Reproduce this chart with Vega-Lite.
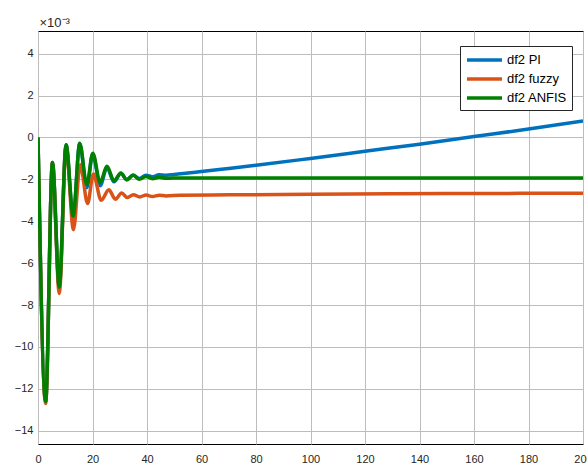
{
  "$schema": "https://vega.github.io/schema/vega-lite/v6.json",
  "width": 545,
  "height": 413,
  "autosize": {"type": "none"},
  "padding": {"left": 38, "top": 31, "right": 4, "bottom": 23},
  "background": "white",
  "config": {
    "view": {"stroke": "#000000", "strokeWidth": 1},
    "font": "Liberation Sans"
  },
  "data": {
    "values": [
      {"t": 0, "v": 0.0, "s": "df2 PI"},
      {"t": 2.8, "v": -12.6, "s": "df2 PI"},
      {"t": 5.3, "v": -1.2, "s": "df2 PI"},
      {"t": 7.8, "v": -7.15, "s": "df2 PI"},
      {"t": 10.3, "v": -0.35, "s": "df2 PI"},
      {"t": 12.9, "v": -3.8, "s": "df2 PI"},
      {"t": 15.3, "v": -0.3, "s": "df2 PI"},
      {"t": 17.9, "v": -2.4, "s": "df2 PI"},
      {"t": 20.1, "v": -0.8, "s": "df2 PI"},
      {"t": 22.8, "v": -2.3, "s": "df2 PI"},
      {"t": 25.3, "v": -1.45, "s": "df2 PI"},
      {"t": 27.9, "v": -2.12, "s": "df2 PI"},
      {"t": 30.4, "v": -1.72, "s": "df2 PI"},
      {"t": 32.6, "v": -2.02, "s": "df2 PI"},
      {"t": 34.9, "v": -1.79, "s": "df2 PI"},
      {"t": 37.2, "v": -1.96, "s": "df2 PI"},
      {"t": 39.6, "v": -1.8, "s": "df2 PI"},
      {"t": 42, "v": -1.88, "s": "df2 PI"},
      {"t": 44.4, "v": -1.78, "s": "df2 PI"},
      {"t": 47, "v": -1.8, "s": "df2 PI"},
      {"t": 50, "v": -1.77, "s": "df2 PI"},
      {"t": 55, "v": -1.7, "s": "df2 PI"},
      {"t": 60, "v": -1.63, "s": "df2 PI"},
      {"t": 70, "v": -1.48, "s": "df2 PI"},
      {"t": 80, "v": -1.33, "s": "df2 PI"},
      {"t": 100, "v": -1.0, "s": "df2 PI"},
      {"t": 120, "v": -0.66, "s": "df2 PI"},
      {"t": 140, "v": -0.32, "s": "df2 PI"},
      {"t": 160, "v": 0.04, "s": "df2 PI"},
      {"t": 180, "v": 0.4, "s": "df2 PI"},
      {"t": 200, "v": 0.78, "s": "df2 PI"},

      {"t": 0, "v": 0.0, "s": "df2 fuzzy"},
      {"t": 2.8, "v": -12.7, "s": "df2 fuzzy"},
      {"t": 5.3, "v": -1.2, "s": "df2 fuzzy"},
      {"t": 7.8, "v": -7.45, "s": "df2 fuzzy"},
      {"t": 10.3, "v": -0.4, "s": "df2 fuzzy"},
      {"t": 13.0, "v": -4.4, "s": "df2 fuzzy"},
      {"t": 15.5, "v": -1.3, "s": "df2 fuzzy"},
      {"t": 18.2, "v": -3.15, "s": "df2 fuzzy"},
      {"t": 20.3, "v": -1.75, "s": "df2 fuzzy"},
      {"t": 23.2, "v": -3.0, "s": "df2 fuzzy"},
      {"t": 26.0, "v": -2.5, "s": "df2 fuzzy"},
      {"t": 28.4, "v": -2.95, "s": "df2 fuzzy"},
      {"t": 30.7, "v": -2.65, "s": "df2 fuzzy"},
      {"t": 32.8, "v": -2.87, "s": "df2 fuzzy"},
      {"t": 35, "v": -2.73, "s": "df2 fuzzy"},
      {"t": 37.3, "v": -2.84, "s": "df2 fuzzy"},
      {"t": 39.7, "v": -2.75, "s": "df2 fuzzy"},
      {"t": 42, "v": -2.82, "s": "df2 fuzzy"},
      {"t": 44.5, "v": -2.76, "s": "df2 fuzzy"},
      {"t": 47, "v": -2.79, "s": "df2 fuzzy"},
      {"t": 52, "v": -2.76, "s": "df2 fuzzy"},
      {"t": 70, "v": -2.74, "s": "df2 fuzzy"},
      {"t": 100, "v": -2.71, "s": "df2 fuzzy"},
      {"t": 150, "v": -2.68, "s": "df2 fuzzy"},
      {"t": 200, "v": -2.66, "s": "df2 fuzzy"},

      {"t": 0, "v": 0.0, "s": "df2 ANFIS"},
      {"t": 2.8, "v": -12.6, "s": "df2 ANFIS"},
      {"t": 5.3, "v": -1.2, "s": "df2 ANFIS"},
      {"t": 7.8, "v": -7.15, "s": "df2 ANFIS"},
      {"t": 10.3, "v": -0.35, "s": "df2 ANFIS"},
      {"t": 12.9, "v": -3.75, "s": "df2 ANFIS"},
      {"t": 15.3, "v": -0.28, "s": "df2 ANFIS"},
      {"t": 17.9, "v": -2.25, "s": "df2 ANFIS"},
      {"t": 20.1, "v": -0.75, "s": "df2 ANFIS"},
      {"t": 22.8, "v": -2.15, "s": "df2 ANFIS"},
      {"t": 25.3, "v": -1.38, "s": "df2 ANFIS"},
      {"t": 27.9, "v": -2.07, "s": "df2 ANFIS"},
      {"t": 30.4, "v": -1.7, "s": "df2 ANFIS"},
      {"t": 32.6, "v": -2.02, "s": "df2 ANFIS"},
      {"t": 34.9, "v": -1.8, "s": "df2 ANFIS"},
      {"t": 37.2, "v": -2.0, "s": "df2 ANFIS"},
      {"t": 39.6, "v": -1.86, "s": "df2 ANFIS"},
      {"t": 42, "v": -1.97, "s": "df2 ANFIS"},
      {"t": 44.4, "v": -1.9, "s": "df2 ANFIS"},
      {"t": 47, "v": -1.95, "s": "df2 ANFIS"},
      {"t": 52, "v": -1.93, "s": "df2 ANFIS"},
      {"t": 200, "v": -1.93, "s": "df2 ANFIS"}
    ]
  },
  "mark": {"type": "line", "strokeWidth": 3.5, "interpolate": "monotone", "clip": true},
  "encoding": {
    "x": {
      "field": "t",
      "type": "quantitative",
      "scale": {"domain": [0, 200], "nice": false, "zero": false},
      "axis": {
        "title": null,
        "values": [0, 20, 40, 60, 80, 100, 120, 140, 160, 180, 200],
        "grid": true,
        "gridColor": "#bdbdbd",
        "gridOpacity": 1,
        "ticks": false,
        "domain": false,
        "labelPadding": 9,
        "labelFontSize": 11,
        "labelColor": "#262626",
        "labelFont": "Liberation Sans",
        "labelFlush": false
      }
    },
    "y": {
      "field": "v",
      "type": "quantitative",
      "scale": {"domain": [-14.63, 5.08], "nice": false, "zero": false},
      "axis": {
        "title": "×10⁻³",
        "titleAngle": 0,
        "titleAlign": "left",
        "titleBaseline": "alphabetic",
        "titleX": 1,
        "titleY": -5,
        "titleFontSize": 13,
        "titleFontWeight": "normal",
        "titleColor": "#262626",
        "titleFont": "Liberation Sans",
        "values": [-14, -12, -10, -8, -6, -4, -2, 0, 2, 4],
        "grid": true,
        "gridColor": "#bdbdbd",
        "gridOpacity": 1,
        "ticks": false,
        "domain": false,
        "labelPadding": 5,
        "labelFontSize": 11,
        "labelColor": "#262626",
        "labelFont": "Liberation Sans"
      }
    },
    "color": {
      "field": "s",
      "type": "nominal",
      "sort": ["df2 PI", "df2 fuzzy", "df2 ANFIS"],
      "scale": {"domain": ["df2 PI", "df2 fuzzy", "df2 ANFIS"], "range": ["#0072BD", "#D95319", "#008000"]},
      "legend": {
        "title": null,
        "orient": "none",
        "legendX": 422,
        "legendY": 15,
        "symbolType": "M-1,0H4",
        "symbolSize": 196,
        "symbolStrokeWidth": 3.5,
        "labelFontSize": 13,
        "labelFont": "Liberation Sans",
        "labelColor": "#000000",
        "labelOffset": 24,
        "strokeColor": "#262626",
        "fillColor": "white",
        "padding": 5,
        "rowPadding": 3
      }
    }
  }
}
